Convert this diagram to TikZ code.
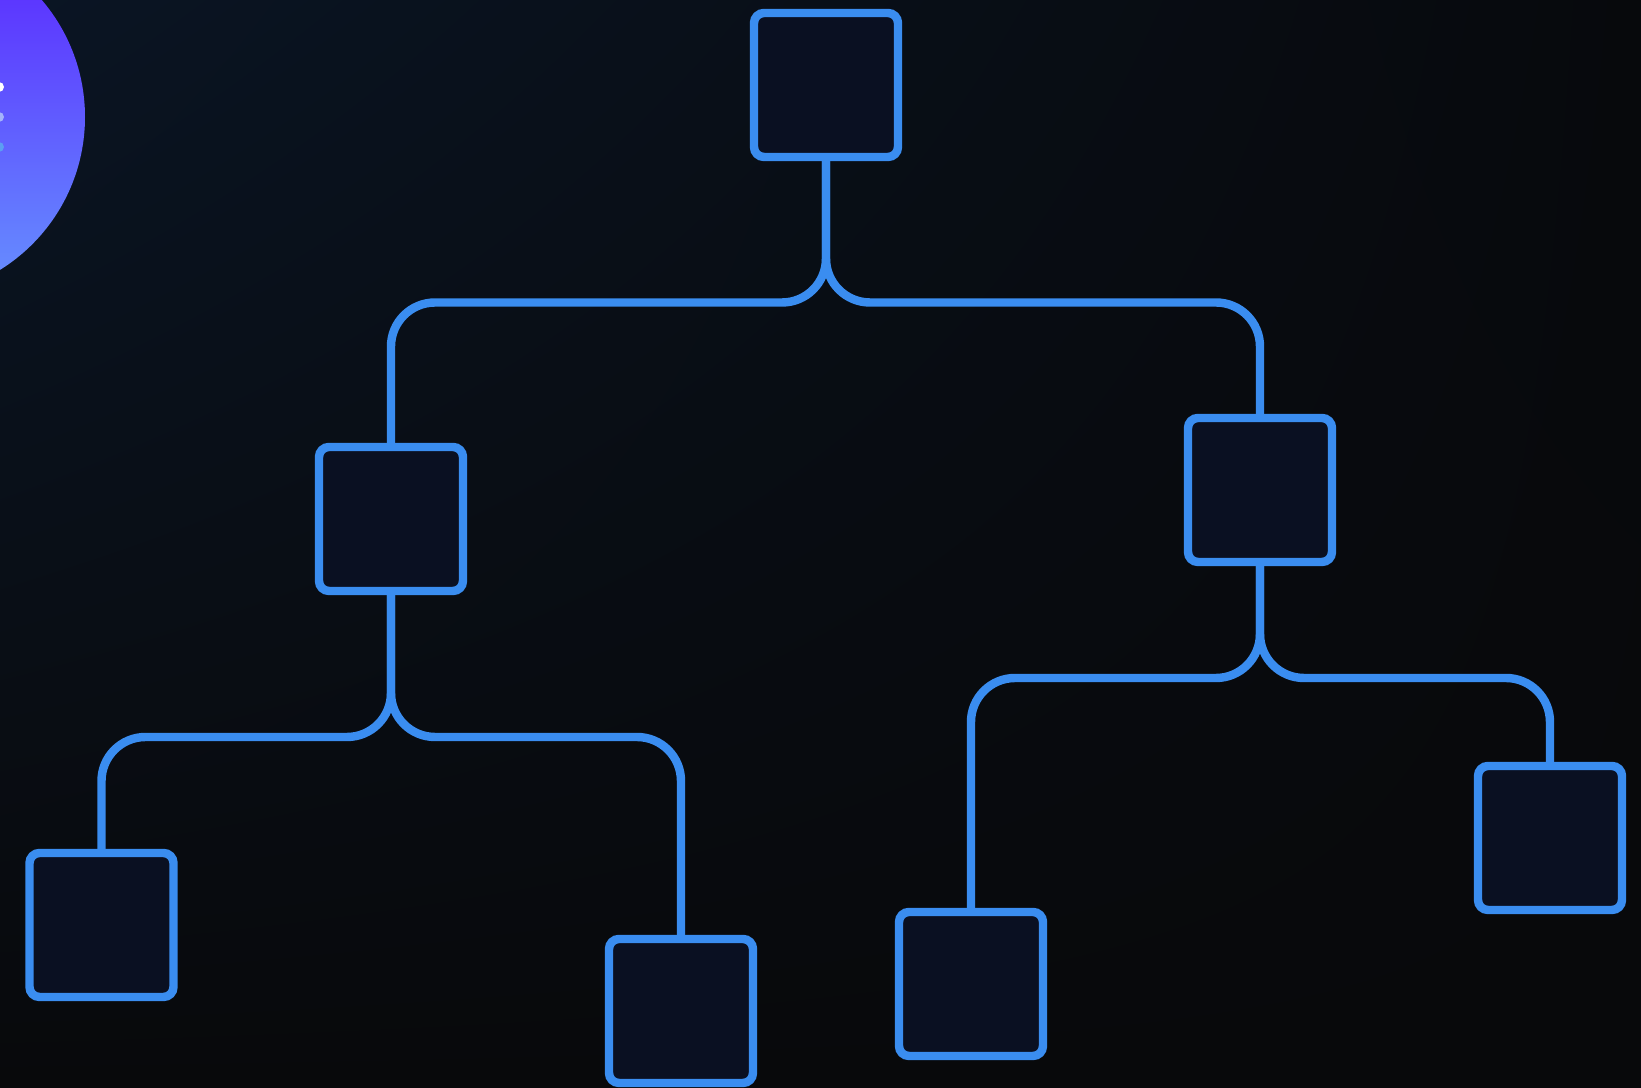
\documentclass[tikz,border=0pt]{standalone}
\usetikzlibrary{positioning,calc,shadings}
\definecolor{bgnavy}{HTML}{0A1524}
\definecolor{bgmid}{HTML}{07090C}
\definecolor{bgdark}{HTML}{08090B}
\definecolor{boxfill}{HTML}{0A1022}
\definecolor{edgeblue}{HTML}{3A8DF0}
\definecolor{orbtop}{HTML}{5A24FF}
\definecolor{orbbot}{HTML}{6692FF}
\definecolor{dotlight}{HTML}{A4B4FA}
\definecolor{dotblue}{HTML}{5C9EF2}

\begin{document}
\begin{tikzpicture}[
  box/.style={draw=edgeblue, fill=boxfill, line width=2.4pt,
    rounded corners=0.1cm, minimum size=1.44cm, inner sep=0pt},
  link/.style={draw=edgeblue, line width=2.4pt, rounded corners=0.44cm}]

% =========================================================
% Background and page frame
% =========================================================
\useasboundingbox (0,0) rectangle (16.41,10.88);
\clip (0,0) rectangle (16.41,10.88);
\shade[upper left=bgnavy, upper right=bgmid, lower left=bgdark, lower right=bgdark]
  (0,0) rectangle (16.41,10.88);

% Orb in the corner, with its three dots
\shade[top color=orbtop, bottom color=orbbot] (-0.95,9.71) circle (1.80);
\foreach \yy/\col in {10.01/white, 9.71/dotlight, 9.41/dotblue}
  \fill[\col] (-0.01,\yy) circle (0.05);

% =========================================================
% Tree nodes
% =========================================================
\node[box] (root) at (8.26,10.03) {};
\node[box] (lmid) at (3.91,5.69) {};
\node[box] (rmid) at (12.60,5.98) {};
\node[box] (ll) at (1.015,1.63) {};
\node[box] (lr) at (6.81,0.77) {};
\node[box] (rl) at (9.71,1.04) {};
\node[box] (rr) at (15.50,2.50) {};

% Rails where the branches split
\coordinate (rail0) at (0,7.855);
\coordinate (raill) at (0,3.51);
\coordinate (railr) at (0,4.10);

% Branches
\foreach \src/\dst/\rail in {root/lmid/rail0, root/rmid/rail0,
    lmid/ll/raill, lmid/lr/raill, rmid/rl/railr, rmid/rr/railr}
  \draw[link] (\src.south) |- (\rail -| \dst) -- (\dst.north);

\end{tikzpicture}
\end{document}
